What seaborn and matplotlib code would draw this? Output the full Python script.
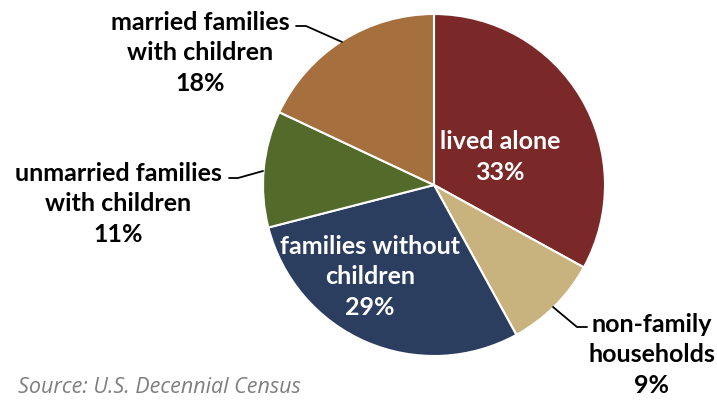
import matplotlib
matplotlib.use("Agg")
import matplotlib.pyplot as plt
import seaborn as sns

# Household types, clockwise from 12 o'clock
categories = ["lived alone", "non-family\nhouseholds", "families without\nchildren",
              "unmarried families\nwith children", "married families\nwith children"]
shares = [33, 9, 29, 11, 18]
colors = ["#7B2928", "#C8B27E", "#2C3E5F", "#536A2B", "#A56F3E"]
source_note = "Source: U.S. Decennial Census"

sns.set_theme(style="white")
plt.rcParams["font.family"] = ["Lato", "DejaVu Sans"]

W, H = 717, 402
fig = plt.figure(figsize=(W / 100, H / 100), dpi=100)
ax = fig.add_axes([0, 0, 1, 1])

cx, cy, r = 434, H - 186, 171
wedges, _ = ax.pie(shares, colors=sns.color_palette(colors), startangle=90,
                   counterclock=False, center=(cx, cy), radius=r,
                   wedgeprops=dict(edgecolor="white", linewidth=1.5))
ax.set_xlim(0, W)
ax.set_ylim(0, H)
ax.set_aspect("equal")
ax.axis("off")

fs = 18
ls = 1.4
lab = [f"{c}\n{v}%" for c, v in zip(categories, shares)]

# labels placed inside the larger slices
ax.text(500, H - 157, lab[0], color="white", fontsize=fs, fontweight="bold",
        ha="center", va="center", linespacing=ls)
ax.text(370, H - 277, lab[2], color="white", fontsize=fs, fontweight="bold",
        ha="center", va="center", linespacing=ls)

# labels outside the smaller slices, with leader lines
ax.text(652, H - 355, lab[1], color="black", fontsize=fs, fontweight="bold",
        ha="center", va="center", linespacing=ls)
ax.plot([553, 577, 587], [H - 308, H - 328, H - 328], color="black", lw=1.3)

ax.text(118, H - 204, lab[3], color="black", fontsize=fs, fontweight="bold",
        ha="center", va="center", linespacing=ls)
ax.plot([229, 238, 263], [H - 179, H - 179, H - 172], color="black", lw=1.3)

ax.text(200, H - 53, lab[4], color="black", fontsize=fs, fontweight="bold",
        ha="center", va="center", linespacing=ls)
ax.plot([296, 306, 342], [H - 27, H - 27, H - 43], color="black", lw=1.3)

ax.text(18, H - 388, source_note, color="#7F7F7F", fontsize=15.5,
        fontstyle="italic", ha="left", va="center", family=["Open Sans", "DejaVu Sans"])

fig.savefig("out.png", dpi=100)
